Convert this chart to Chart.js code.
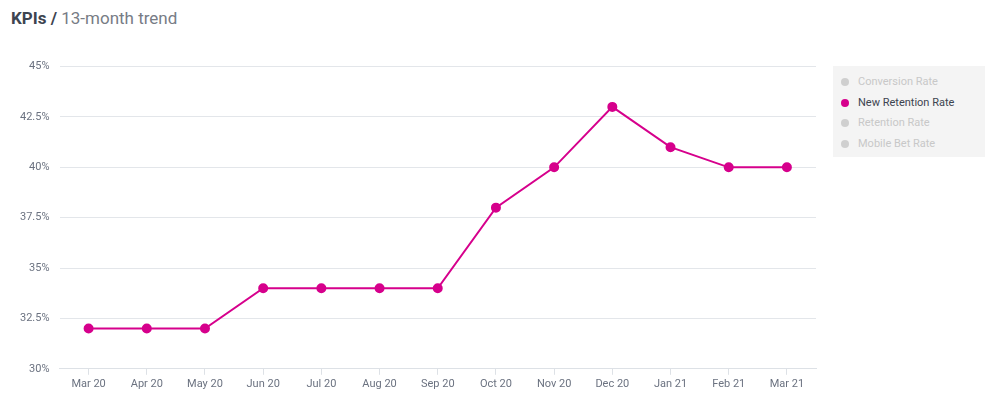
<!DOCTYPE html>
<html>
<head>
<meta charset="utf-8">
<script src="https://cdn.jsdelivr.net/npm/chart.js@4"></script>
<style>
  body { margin: 0; background: #fff; font-family: Roboto, sans-serif; }
  #title { position: absolute; left: 11px; top: 8px; font-size: 17px; color: #777c85; }
  #title b { color: #3d4450; }
  #wrap { position: absolute; left: 0; top: 50px; width: 822px; height: 344px; }
  #legend { position: absolute; left: 833px; top: 66px; width: 152px; height: 85px; padding-top: 6px; background: #f4f4f4; font-size: 11px; }
  #legend div { height: 20.5px; line-height: 20.5px; padding-left: 25px; position: relative; color: #c8c8c8; }
  #legend div span { position: absolute; left: 8px; top: 6px; width: 8px; height: 8px; border-radius: 50%; background: #cfcfcf; }
  #legend div.on { color: #3d4450; }
  #legend div.on span { background: #d6008c; }
</style>
</head>
<body>
<div id="title"><b>KPIs /</b> 13-month trend</div>
<div id="wrap"><canvas id="c"></canvas></div>
<div id="legend"></div>
<script>
const months = ["Mar 20", "Apr 20", "May 20", "Jun 20", "Jul 20", "Aug 20", "Sep 20", "Oct 20", "Nov 20", "Dec 20", "Jan 21", "Feb 21", "Mar 21"];
const retention = [32, 32, 32, 34, 34, 34, 34, 38, 40, 43, 41, 40, 40];
const seriesNames = ["Conversion Rate", "New Retention Rate", "Retention Rate", "Mobile Bet Rate"];
const activeSeries = "New Retention Rate";

const legend = document.getElementById("legend");
seriesNames.forEach((n) => {
  const d = document.createElement("div");
  if (n === activeSeries) d.className = "on";
  d.innerHTML = "<span></span>" + n;
  legend.appendChild(d);
});

new Chart(document.getElementById("c"), {
  type: "line",
  data: {
    labels: months,
    datasets: [{
      label: activeSeries,
      data: retention,
      borderColor: "#d6008c",
      backgroundColor: "#d6008c",
      borderWidth: 2,
      pointRadius: 4,
      tension: 0,
    }],
  },
  options: {
    responsive: true,
    maintainAspectRatio: false,
    animation: false,
    layout: { padding: { left: 10, right: 5, top: 8 } },
    plugins: { legend: { display: false } },
    scales: {
      x: {
        offset: true,
        grid: { display: true, drawOnChartArea: false, color: "#dde1e6", tickLength: 6 },
        border: { color: "#dde1e6" },
        ticks: { color: "#6b7280", font: { size: 11, family: "Roboto" } },
      },
      y: {
        min: 30,
        max: 45,
        ticks: { stepSize: 2.5, color: "#6b7280", padding: 10, font: { size: 11, family: "Roboto" }, callback: (v) => v + "%" },
        grid: { color: "#e3e6ea", drawTicks: false },
        border: { display: false },
      },
    },
  },
});
</script>
</body>
</html>
